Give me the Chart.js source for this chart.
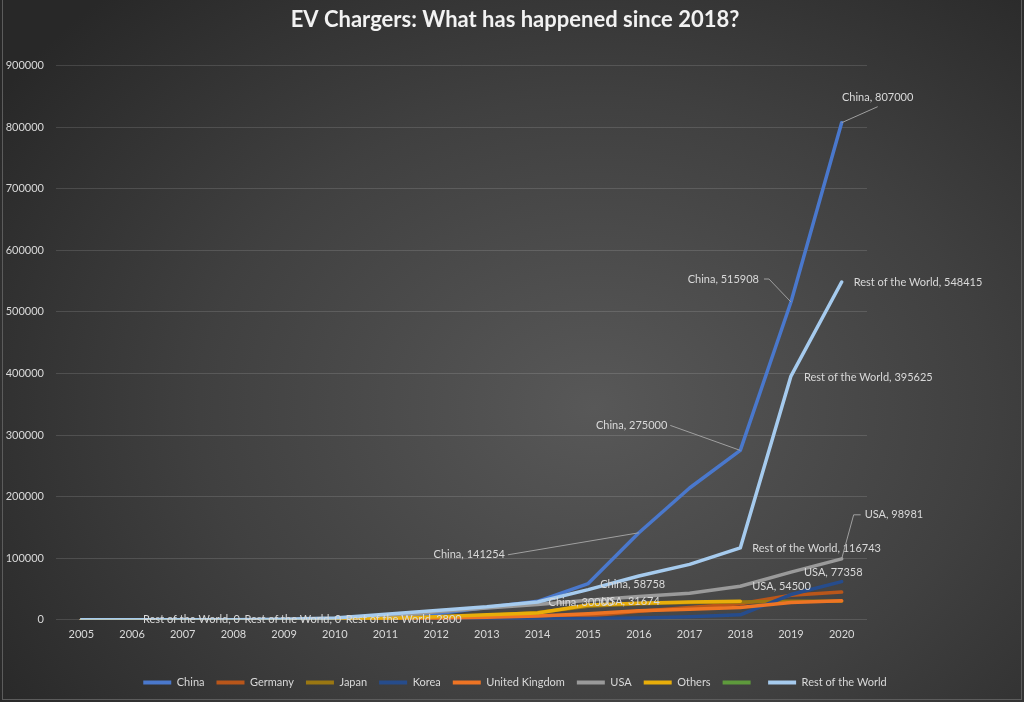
<!DOCTYPE html>
<html>
<head>
<meta charset="utf-8">
<script src="https://cdn.jsdelivr.net/npm/chart.js@4.4.0/dist/chart.umd.min.js"></script>
<style>
  html, body { margin: 0; padding: 0; }
  body {
    position: relative;
    width: 1024px; height: 702px; overflow: hidden;
    background: radial-gradient(ellipse 70% 80% at 58% 58%, #585858 0%, #404040 55%, #282828 100%);
  }
  canvas { display: block; }
  .frame {
    position: absolute; left: 2px; right: 2px; top: -2px; bottom: 2px;
    border: 1px solid #5c5c5c; pointer-events: none;
  }
</style>
</head>
<body>
<canvas id="chart" width="1024" height="702"></canvas>
<div class="frame"></div>
<script>
// Chart data
const years = ['2005', '2006', '2007', '2008', '2009', '2010', '2011', '2012',
  '2013', '2014', '2015', '2016', '2017', '2018', '2019', '2020'];

const china   = [0, 0, 0, 0, 0, 800, 3000, 10000, 20000, 30000, 58758, 141254, 214000, 275000, 515908, 807000];
const germany = [0, 0, 0, 0, 0, 200, 1500, 2500, 3500, 4500, 6000, 14000, 20000, 26000, 40000, 45000];
const japan   = [0, 0, 0, 0, 0, 300, 1500, 4000, 7000, 12000, 22000, 26000, 28000, 29000, 30000, 30000];
const korea   = [0, 0, 0, 0, 0, 0, 200, 500, 1000, 1500, 2000, 3000, 5000, 8000, 41000, 62000];
const uk      = [0, 0, 0, 0, 0, 500, 1500, 2500, 4000, 6000, 10000, 14500, 17000, 20000, 28000, 31000];
const usa     = [0, 0, 0, 0, 0, 1000, 5000, 13000, 19000, 25000, 31674, 38000, 43000, 54500, 77358, 98981];
const others  = [0, 0, 0, 0, 0, 500, 2000, 5000, 8000, 11000, 24000, 27000, 29000, 30000, null, null];
const unnamed = [null, null, null, null, null, null, null, null, null, null, null, null, null, null, null, null];
const restOfWorld = [0, 0, 0, 0, 1000, 2800, 9000, 15000, 21000, 29000, 49000, 71000, 90000, 116743, 395625, 548415];

const yTicks = [0, 100000, 200000, 300000, 400000, 500000, 600000, 700000, 800000, 900000];

const series = [
  { name: 'China', data: china, color: '#4a78cc' },
  { name: 'Germany', data: germany, color: '#b9561a' },
  { name: 'Japan', data: japan, color: '#9a7712' },
  { name: 'Korea', data: korea, color: '#264c8c' },
  { name: 'United Kingdom', data: uk, color: '#ee7424' },
  { name: 'USA', data: usa, color: '#9a9a9a' },
  { name: 'Others', data: others, color: '#e8ae0a' },
  { name: '', data: unnamed, color: '#5e9a3c' },
  { name: 'Rest of the World', data: restOfWorld, color: '#a6cbee' }
];

// which points carry a data label, offset from the point in px
const pointLabels = [
  { series: 'China', year: '2014', dx: 11, dy: 1, align: 'left' },
  { series: 'USA', year: '2015', dx: 13, dy: 1, align: 'left' },
  { series: 'China', year: '2015', dx: 12, dy: 1, align: 'left' },
  { series: 'China', year: '2016', dx: -134, dy: 22, align: 'right', leader: [[-131, 22]] },
  { series: 'China', year: '2018', dx: -73, dy: -25, align: 'right', leader: [[-70, -25]] },
  { series: 'China', year: '2019', dx: -32, dy: -23, align: 'right', leader: [[-27, -23], [-22, -23]] },
  { series: 'China', year: '2020', dx: 36, dy: -25, align: 'center', leader: [[36, -16]] },
  { series: 'Rest of the World', year: '2006', dx: 11, dy: 0, align: 'left' },
  { series: 'Rest of the World', year: '2008', dx: 11, dy: 0, align: 'left' },
  { series: 'Rest of the World', year: '2010', dx: 11, dy: 1, align: 'left' },
  { series: 'Rest of the World', year: '2018', dx: 12, dy: 1, align: 'left' },
  { series: 'Rest of the World', year: '2019', dx: 13, dy: 1, align: 'left' },
  { series: 'Rest of the World', year: '2020', dx: 12, dy: 0, align: 'left' },
  { series: 'USA', year: '2018', dx: 12, dy: 0, align: 'left' },
  { series: 'USA', year: '2019', dx: 13, dy: 0, align: 'left' },
  { series: 'USA', year: '2020', dx: 23, dy: -44, align: 'left', leader: [[19, -44], [12, -44]] }
];

const FONT = 'Lato, "Open Sans", sans-serif';
const TEXT = '#d9d9d9';

// draws Excel-style data labels with leader lines
const dataLabelPlugin = {
  id: 'dataLabels',
  afterDatasetsDraw(chart) {
    const ctx = chart.ctx;
    ctx.save();
    ctx.font = '11px ' + FONT;
    ctx.textBaseline = 'middle';
    pointLabels.forEach(lbl => {
      const dsIndex = chart.data.datasets.findIndex(ds => ds.label === lbl.series);
      const idx = years.indexOf(lbl.year);
      const pt = chart.getDatasetMeta(dsIndex).data[idx];
      const value = chart.data.datasets[dsIndex].data[idx];
      if (!pt) return;
      if (lbl.leader) {
        ctx.strokeStyle = '#a0a0a0';
        ctx.lineWidth = 1;
        ctx.beginPath();
        lbl.leader.forEach((p, i) => {
          if (i === 0) ctx.moveTo(pt.x + p[0], pt.y + p[1]);
          else ctx.lineTo(pt.x + p[0], pt.y + p[1]);
        });
        ctx.lineTo(pt.x, pt.y);
        ctx.stroke();
      }
      ctx.fillStyle = TEXT;
      ctx.textAlign = lbl.align;
      ctx.fillText(lbl.series + ', ' + value, pt.x + lbl.dx, pt.y + lbl.dy);
    });
    ctx.restore();
  }
};

const datasets = series.map((s, i) => ({
  label: s.name,
  data: s.data,
  borderColor: s.color,
  backgroundColor: s.color,
  borderWidth: 3.5,
  borderJoinStyle: 'round',
  borderCapStyle: 'round',
  pointRadius: 0,
  pointHoverRadius: 0,
  tension: 0,
  fill: false,
  order: series.length - i
}));

new Chart(document.getElementById('chart'), {
  type: 'line',
  data: { labels: years, datasets: datasets },
  plugins: [dataLabelPlugin],
  options: {
    responsive: false,
    animation: false,
    layout: { padding: { left: 6, right: 0, top: 0, bottom: 4 } },
    plugins: {
      title: {
        display: true,
        text: 'EV Chargers: What has happened since 2018?',
        color: '#f2f2f2',
        font: { family: FONT, size: 22, weight: 'bold' },
        padding: { top: 7, bottom: 32 }
      },
      legend: {
        position: 'bottom',
        labels: {
          color: TEXT,
          font: { family: FONT, size: 11 },
          boxWidth: 28,
          boxHeight: 4,
          padding: 12,
          generateLabels(chart) {
            const items = Chart.defaults.plugins.legend.labels.generateLabels(chart);
            items.forEach(item => {
              item.fillStyle = item.strokeStyle;
              item.lineWidth = 0;
            });
            return items.sort((a, b) => a.datasetIndex - b.datasetIndex);
          }
        }
      },
      tooltip: { enabled: false }
    },
    scales: {
      x: {
        offset: true,
        grid: { display: false, drawTicks: false },
        border: { display: false },
        ticks: { color: TEXT, font: { family: FONT, size: 11 }, padding: 8, maxRotation: 0 },
        afterFit(scale) { scale.height += 16; }
      },
      y: {
        min: 0,
        max: 900000,
        afterBuildTicks(scale) { scale.ticks = yTicks.map(v => ({ value: v })); },
        grid: { color: 'rgba(255,255,255,0.13)', drawTicks: false },
        border: { display: false },
        ticks: {
          color: TEXT,
          font: { family: FONT, size: 11 },
          padding: 12,
          callback: v => String(v)
        },
        afterFit(scale) { scale.width = 50; }
      },
      // empty right-hand strip that leaves room for the data labels
      side: {
        position: 'right',
        grid: { display: false, drawTicks: false },
        border: { display: false },
        ticks: { display: false },
        afterFit(scale) { scale.width = 157; }
      }
    }
  }
});
</script>
</body>
</html>
